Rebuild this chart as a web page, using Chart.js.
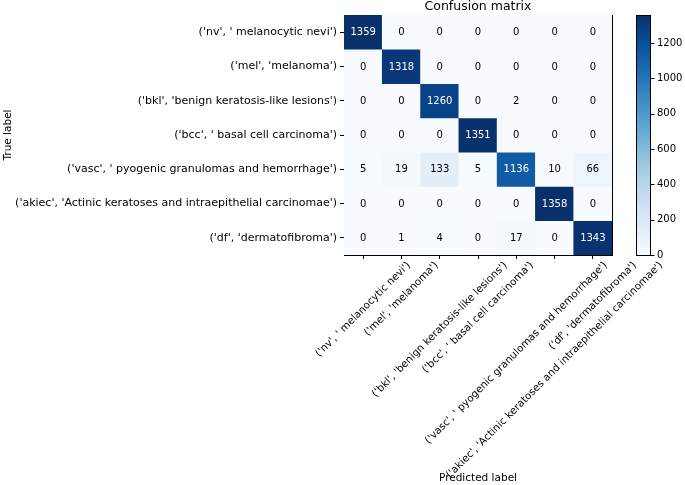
<!DOCTYPE html>
<html>
<head>
<meta charset="utf-8">
<script src="https://cdn.jsdelivr.net/npm/chart.js@4.4.1/dist/chart.umd.min.js"></script>
<style>
    html, body { margin: 0; padding: 0; background: #fff; }
    #wrap { width: 685px; height: 485px; position: relative; }
</style>
</head>
<body>
<div id="wrap"><canvas id="cm"></canvas></div>
<script>
// Class labels (same order on both axes)
const labels = [
    "('nv', ' melanocytic nevi')",
    "('mel', 'melanoma')",
    "('bkl', 'benign keratosis-like lesions')",
    "('bcc', ' basal cell carcinoma')",
    "('vasc', ' pyogenic granulomas and hemorrhage')",
    "('akiec', 'Actinic keratoses and intraepithelial carcinomae')",
    "('df', 'dermatofibroma')"
];

// Confusion matrix rows (true label), columns = predicted label
const rowNv    = [1359, 0, 0, 0, 0, 0, 0];
const rowMel   = [0, 1318, 0, 0, 0, 0, 0];
const rowBkl   = [0, 0, 1260, 0, 2, 0, 0];
const rowBcc   = [0, 0, 0, 1351, 0, 0, 0];
const rowVasc  = [5, 19, 133, 5, 1136, 10, 66];
const rowAkiec = [0, 0, 0, 0, 0, 1358, 0];
const rowDf    = [0, 1, 4, 0, 17, 0, 1343];
const rows = [rowNv, rowMel, rowBkl, rowBcc, rowVasc, rowAkiec, rowDf];

// Colorbar tick values
const colorbarTicks = [0, 200, 400, 600, 800, 1000, 1200];

// matplotlib "Blues" colormap stops
const BLUES = ['#f7fbff', '#deebf7', '#c6dbef', '#9ecae1', '#6baed6', '#4292c6', '#2171b5', '#08519c', '#08306b'];
const FONT = "'DejaVu Sans', sans-serif";

const vmax = Math.max(...rows.flat());

const hexToRgb = h => [1, 3, 5].map(i => parseInt(h.slice(i, i + 2), 16));
const blues = t => {
    const p = Math.min(Math.max(t, 0), 1) * (BLUES.length - 1);
    const i = Math.min(Math.floor(p), BLUES.length - 2);
    const f = p - i;
    const a = hexToRgb(BLUES[i]), b = hexToRgb(BLUES[i + 1]);
    const c = a.map((v, k) => Math.round(v + (b[k] - v) * f));
    return `rgb(${c[0]},${c[1]},${c[2]})`;
};

// One floating-bar dataset per true-label row
const datasets = rows.map((row, r) => ({
    data: row.map((v, c) => ({ x: labels[c], y: [r - 0.5, r + 0.5] })),
    backgroundColor: row.map(v => blues(v / vmax)),
    borderWidth: 0,
    grouped: false,
    barPercentage: 1,
    categoryPercentage: 1
}));

// Numbers inside cells
const cellText = {
    id: 'cellText',
    afterDatasetsDraw(chart) {
        const ctx = chart.ctx;
        ctx.save();
        ctx.font = `10px ${FONT}`;
        ctx.textAlign = 'center';
        ctx.textBaseline = 'middle';
        rows.forEach((row, r) => {
            chart.getDatasetMeta(r).data.forEach((bar, c) => {
                ctx.fillStyle = row[c] > vmax / 2 ? '#ffffff' : '#000000';
                ctx.fillText(String(row[c]), bar.x, (bar.y + bar.base) / 2 + 0.5);
            });
        });
        ctx.restore();
    }
};

// Rotated x tick labels, centred on the tick (matplotlib style)
const xLabels = {
    id: 'xLabels',
    afterDraw(chart) {
        const ctx = chart.ctx;
        const sx = chart.scales.x;
        const size = 10.3;
        ctx.save();
        ctx.font = `${size}px ${FONT}`;
        ctx.fillStyle = '#000';
        ctx.textAlign = 'center';
        ctx.textBaseline = 'middle';
        labels.forEach((t, i) => {
            const x = sx.getPixelForTick(i);
            const half = (ctx.measureText(t).width + size) * Math.SQRT1_2 / 2;
            ctx.save();
            ctx.translate(x, sx.top + 5 + half);
            ctx.rotate(-Math.PI / 4);
            ctx.fillText(t, 0, 0);
            ctx.restore();
        });
        ctx.restore();
    }
};

// Colorbar strip next to the matrix
const colorbar = {
    id: 'colorbar',
    afterDraw(chart) {
        const ctx = chart.ctx;
        const s = chart.scales.y2;
        const x0 = chart.chartArea.right + 24, w = 14;
        const top = s.getPixelForValue(vmax), bottom = s.getPixelForValue(0);
        const g = ctx.createLinearGradient(0, bottom, 0, top);
        BLUES.forEach((c, i) => g.addColorStop(i / (BLUES.length - 1), c));
        ctx.save();
        ctx.fillStyle = g;
        ctx.fillRect(x0, top, w, bottom - top);
        ctx.strokeStyle = '#000';
        ctx.lineWidth = 1;
        ctx.strokeRect(x0 + 0.5, Math.round(top) + 0.5, w, Math.round(bottom - top));
        colorbarTicks.forEach(v => {
            const y = Math.round(s.getPixelForValue(v)) + 0.5;
            ctx.beginPath();
            ctx.moveTo(x0 + w + 0.5, y);
            ctx.lineTo(x0 + w + 4.5, y);
            ctx.stroke();
        });
        ctx.restore();
    }
};

new Chart(document.getElementById('cm'), {
    type: 'bar',
    data: { labels: labels, datasets: datasets },
    options: {
        responsive: true,
        maintainAspectRatio: false,
        animation: false,
        layout: { padding: 0 },
        plugins: { legend: { display: false }, tooltip: { enabled: false } },
        scales: {
            x: {
                type: 'category',
                position: 'bottom',
                offset: true,
                grid: { offset: false, drawOnChartArea: false, tickLength: 4, color: '#000' },
                border: { display: true, color: '#000' },
                ticks: { display: false },
                title: { display: true, text: 'Predicted label', color: '#000', font: { family: FONT, size: 10.5 }, padding: 0 },
                afterFit: s => { s.height = 230; }
            },
            x2: {
                type: 'category',
                position: 'top',
                labels: labels,
                offset: true,
                grid: { display: false },
                border: { display: true, color: '#000' },
                ticks: { display: false },
                title: { display: true, text: 'Confusion matrix', color: '#000', font: { family: FONT, size: 12.5, lineHeight: 1 }, padding: 0 },
                afterFit: s => { s.height = 15; }
            },
            y: {
                type: 'linear',
                position: 'left',
                reverse: true,
                min: -0.5,
                max: 6.5,
                afterBuildTicks: s => { s.ticks = labels.map((_, i) => ({ value: i })); },
                grid: { drawOnChartArea: false, tickLength: 4, color: '#000' },
                border: { display: true, color: '#000' },
                ticks: { autoSkip: false, padding: 3, color: '#000', font: { family: FONT, size: 11 }, callback: v => labels[v] },
                title: { display: true, text: 'True label', color: '#000', font: { family: FONT, size: 10.5 }, padding: { top: 2, bottom: 0 } },
                afterFit: s => { s.width = 344; s.paddingTop = 0; s.paddingBottom = 0; }
            },
            y2: {
                type: 'linear',
                position: 'right',
                min: 0,
                max: vmax,
                afterBuildTicks: s => { s.ticks = colorbarTicks.map(v => ({ value: v })); },
                grid: { display: false, drawTicks: false },
                border: { display: true, color: '#000' },
                ticks: { padding: 45, color: '#000', font: { family: FONT, size: 10 }, callback: v => String(v) },
                afterFit: s => { s.width = 73; s.paddingTop = 0; s.paddingBottom = 0; }
            }
        }
    },
    plugins: [cellText, xLabels, colorbar]
});
</script>
</body>
</html>
